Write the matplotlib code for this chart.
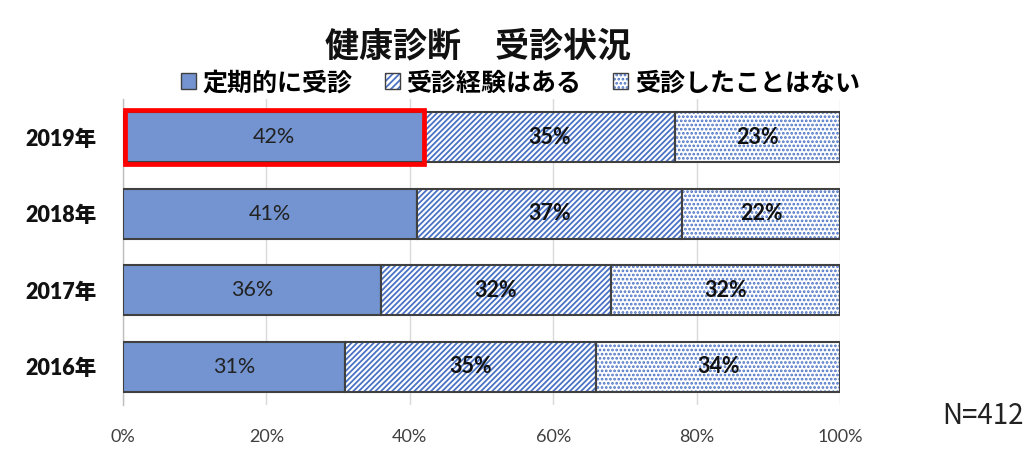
import matplotlib
matplotlib.use("Agg")
import matplotlib.pyplot as plt
from matplotlib.patches import Patch, Rectangle
import numpy as np

plt.rcParams['font.family'] = ['Noto Sans CJK JP', 'DejaVu Sans']
plt.rcParams['hatch.linewidth'] = 1.3
num_font = ['Lato', 'Noto Sans CJK JP', 'DejaVu Sans']

years = ["2016年", "2017年", "2018年", "2019年"]
regular = [31, 36, 41, 42]
experienced = [35, 32, 37, 35]
never = [34, 32, 22, 23]
series_names = ["定期的に受診", "受診経験はある", "受診したことはない"]
xticks = [0, 20, 40, 60, 80, 100]

blue = "#7394D0"
hatch_blue = "#4A72C4"
edge = "#404040"

fig = plt.figure(figsize=(10.24, 4.57), dpi=100)
ax = fig.add_axes([0.1201, 0.1138, 0.7002, 0.6696])

y = np.arange(len(years))
h = 0.65
reg = np.array(regular)
exp_ = np.array(experienced)
nev = np.array(never)

ax.barh(y, reg, height=h, color=blue, edgecolor=edge, linewidth=1.5, zorder=3)
ax.barh(y, exp_, left=reg, height=h, color="white", edgecolor=hatch_blue,
        hatch="//////", linewidth=0, zorder=3)
ax.barh(y, exp_, left=reg, height=h, color="none", edgecolor=edge, linewidth=1.5, zorder=4)
ax.barh(y, nev, left=reg + exp_, height=h, color="white", edgecolor=hatch_blue,
        hatch="....", linewidth=0, zorder=3)
ax.barh(y, nev, left=reg + exp_, height=h, color="none", edgecolor=edge, linewidth=1.5, zorder=4)

for i in range(len(years)):
    ax.text(reg[i] / 2, y[i], f"{reg[i]}%", ha="center", va="center",
            fontsize=15.5, color="#222222", zorder=6, family=num_font)
    ax.text(reg[i] + exp_[i] / 2, y[i], f"{exp_[i]}%", ha="center", va="center",
            fontsize=15.5, fontweight="bold", color="#111111", zorder=6, family=num_font)
    ax.text(reg[i] + exp_[i] + nev[i] / 2, y[i], f"{nev[i]}%", ha="center", va="center",
            fontsize=15.5, fontweight="bold", color="#111111", zorder=6, family=num_font)

# highlight box for 2019 regular
i19 = years.index("2019年")
ax.add_patch(Rectangle((0.35, y[i19] - h / 2 - 0.03), reg[i19] - 0.35, h + 0.06,
                       fill=False, edgecolor="#FF0000", linewidth=3.4, zorder=7,
                       clip_on=False))

ax.set_xlim(0, 100)
ax.set_ylim(-0.5, len(years) - 0.5)
ax.set_xticks(xticks)
ax.set_xticklabels([f"{v}%" for v in xticks], fontsize=13, color="#404040", family=num_font)
ax.set_yticks(y)
ax.set_yticklabels(years, fontsize=15.5, fontweight="heavy", color="#111111", family=num_font)
ax.tick_params(axis="both", length=0)
ax.tick_params(axis="x", pad=17)
ax.tick_params(axis="y", pad=19)
ax.grid(axis="x", color="#D9D9D9", linewidth=1, zorder=0)
for s in ["top", "right", "bottom"]:
    ax.spines[s].set_visible(False)
ax.spines["left"].set_color("#BFBFBF")
ax.spines["left"].set_linewidth(1)

fig.text(0.467, 0.9, "健康診断　受診状況", ha="center", va="center",
         fontsize=24.5, fontweight="bold", color="#111111")

h1 = Patch(facecolor=blue, edgecolor=edge, linewidth=1)
h2 = (Patch(facecolor="white", edgecolor=hatch_blue, hatch="/////", linewidth=0),
      Patch(facecolor="none", edgecolor=edge, linewidth=1))
h3 = (Patch(facecolor="white", edgecolor=hatch_blue, hatch="....", linewidth=0),
      Patch(facecolor="none", edgecolor=edge, linewidth=1))
fig.legend([h1, h2, h3], series_names, loc="center", bbox_to_anchor=(0.508, 0.818),
           ncol=3, frameon=False, handlelength=0.6, handleheight=0.6,
           handletextpad=0.25, columnspacing=1.3,
           prop={"size": 18, "weight": "bold"})

fig.text(0.92, 0.09, "N=412", ha="left", va="center", fontsize=20, color="#222222")

fig.savefig("out.png", dpi=100)
